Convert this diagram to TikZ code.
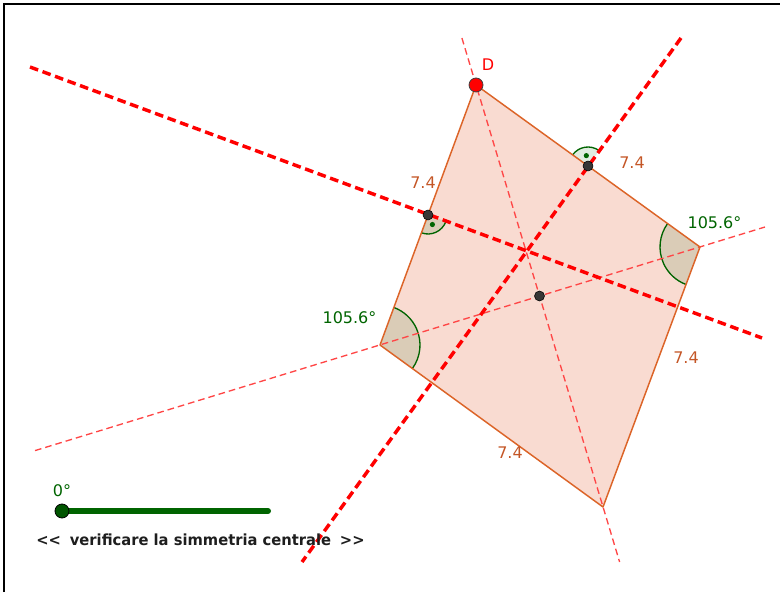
\documentclass[tikz,border=0pt]{standalone}
\usepackage{fontspec}
\setmainfont{DejaVu Sans}
\usetikzlibrary{calc}
\tikzset{every node/.style={font=\fontsize{12}{14}\selectfont}}
\definecolor{sidecol}{RGB}{220,100,40}
\definecolor{fillcol}{RGB}{249,219,209}
\definecolor{bisectcol}{RGB}{255,0,0}
\definecolor{diagcol}{RGB}{255,70,70}
\definecolor{angcol}{RGB}{0,100,0}
\definecolor{lenlabelcol}{RGB}{196,86,38}
\definecolor{ptcol}{RGB}{55,55,55}
\definecolor{textcol}{RGB}{30,30,30}
\tikzset{
  bisector/.style={bisectcol, line width=2.6pt, dash pattern=on 6.5pt off 3.5pt},
  diagonal/.style={diagcol, line width=1pt, dash pattern=on 5pt off 3pt},
  midpt/.style={circle, fill=ptcol, draw=black, line width=0.4pt,
    inner sep=0pt, minimum size=7.5pt},
  lenlabel/.style={text=lenlabelcol},
  anglabel/.style={text=angcol},
}

\begin{document}
\begin{tikzpicture}[x=0.75pt, y=0.75pt]

  \useasboundingbox (0,0) rectangle (780,592);

  % Frame (top and left edges).
  \draw[line width=1.1pt] (4,0) -- (4,588) -- (780,588);

  % Vertices of the rhombus.
  \coordinate (D) at (476,507);
  \coordinate (R) at (700,345);
  \coordinate (B) at (603,85);
  \coordinate (L) at (380,247);

  % Filled rhombus.
  \fill[fillcol] (D) -- (R) -- (B) -- (L) -- cycle;

  % Angles of 105.6 at L and R.
  \fill[angcol, opacity=0.12] (L) -- ++(-36.0:40) arc[start angle=-36.0, end angle=69.73, radius=40] -- cycle;
  \draw[angcol, line width=1pt] ($(L)+(-36.0:40)$) arc[start angle=-36.0, end angle=69.73, radius=40];
  \fill[angcol, opacity=0.12] (R) -- ++(144.13:40) arc[start angle=144.13, end angle=249.54, radius=40] -- cycle;
  \draw[angcol, line width=1pt] ($(R)+(144.13:40)$) arc[start angle=144.13, end angle=249.54, radius=40];

  % Midpoints of the two upper sides and centre.
  \coordinate (M1) at (428,377);
  \coordinate (M2) at (588,426);
  \coordinate (O) at (539.5,296);

  % Right angle marks.
  \fill[angcol, opacity=0.12] (M1) -- ++(249.73:19) arc[start angle=249.73, end angle=339.73, radius=19] -- cycle;
  \draw[angcol, line width=1pt] ($(M1)+(249.73:19)$) arc[start angle=249.73, end angle=339.73, radius=19];
  \fill[angcol] ($(M1)+(294.73:10.5)$) circle[radius=2.6];
  \fill[angcol, opacity=0.12] (M2) -- ++(54.13:19) arc[start angle=54.13, end angle=144.13, radius=19] -- cycle;
  \draw[angcol, line width=1pt] ($(M2)+(54.13:19)$) arc[start angle=54.13, end angle=144.13, radius=19];
  \fill[angcol] ($(M2)+(99.13:10.5)$) circle[radius=2.6];

  % Diagonals (axes of symmetry).
  \coordinate (dbtop) at (461.9,554);
  \coordinate (dbbot) at (619.6,30);
  \coordinate (lrleft) at (35,141.4);
  \coordinate (lrright) at (765,365);
  \draw[diagonal] (dbtop) -- (dbbot);
  \draw[diagonal] (lrleft) -- (lrright);

  % Perpendicular bisectors of the sides.
  \coordinate (p1a) at (30,525);
  \coordinate (p1b) at (762,254);
  \coordinate (p2a) at (681,554);
  \coordinate (p2b) at (302,30);
  \draw[bisector] (p1a) -- (p1b);
  \draw[bisector] (p2a) -- (p2b);

  % Sides.
  \draw[sidecol, line width=1.1pt, line join=round] (D) -- (R) -- (B) -- (L) -- cycle;

  % Points.
  \node[midpt] (m1) at (M1) {};
  \node[midpt] (m2) at (M2) {};
  \node[midpt] (ctr) at (O) {};
  \node[circle, fill=red, draw=black!75, line width=0.6pt, inner sep=0pt,
    minimum size=10.5pt] (dpt) at (D) {};
  \node[text=red] (dlabel) at (488,527) {D};

  % Side lengths.
  \node[lenlabel] (len1) at (423,409) {7.4};
  \node[lenlabel] (len2) at (632,429) {7.4};
  \node[lenlabel] (len3) at (686,234) {7.4};
  \node[lenlabel] (len4) at (510,139) {7.4};

  % Angle labels.
  \node[anglabel] (ang1) at (714.5,369) {105.6°};
  \node[anglabel] (ang2) at (349.5,274) {105.6°};

  % Slider.
  \coordinate (s0) at (62,81);
  \coordinate (s1) at (268,81);
  \draw[angcol, line width=4.5pt, line cap=round] (s0) -- (s1);
  \node[circle, fill=angcol!85!black, draw=black, line width=0.6pt, inner sep=0pt,
    minimum size=10.5pt] (knob) at (s0) {};
  \node[anglabel] (slval) at (62,101) {0°};
  \node[text=textcol, font=\fontsize{11.5}{13}\selectfont\bfseries, xscale=0.96] (caption) at (200.5,52)
    {<\kern0pt<\hspace{0.6em}verificare la simmetria centrale\hspace{0.6em}>\kern0pt>};

\end{tikzpicture}
\end{document}
